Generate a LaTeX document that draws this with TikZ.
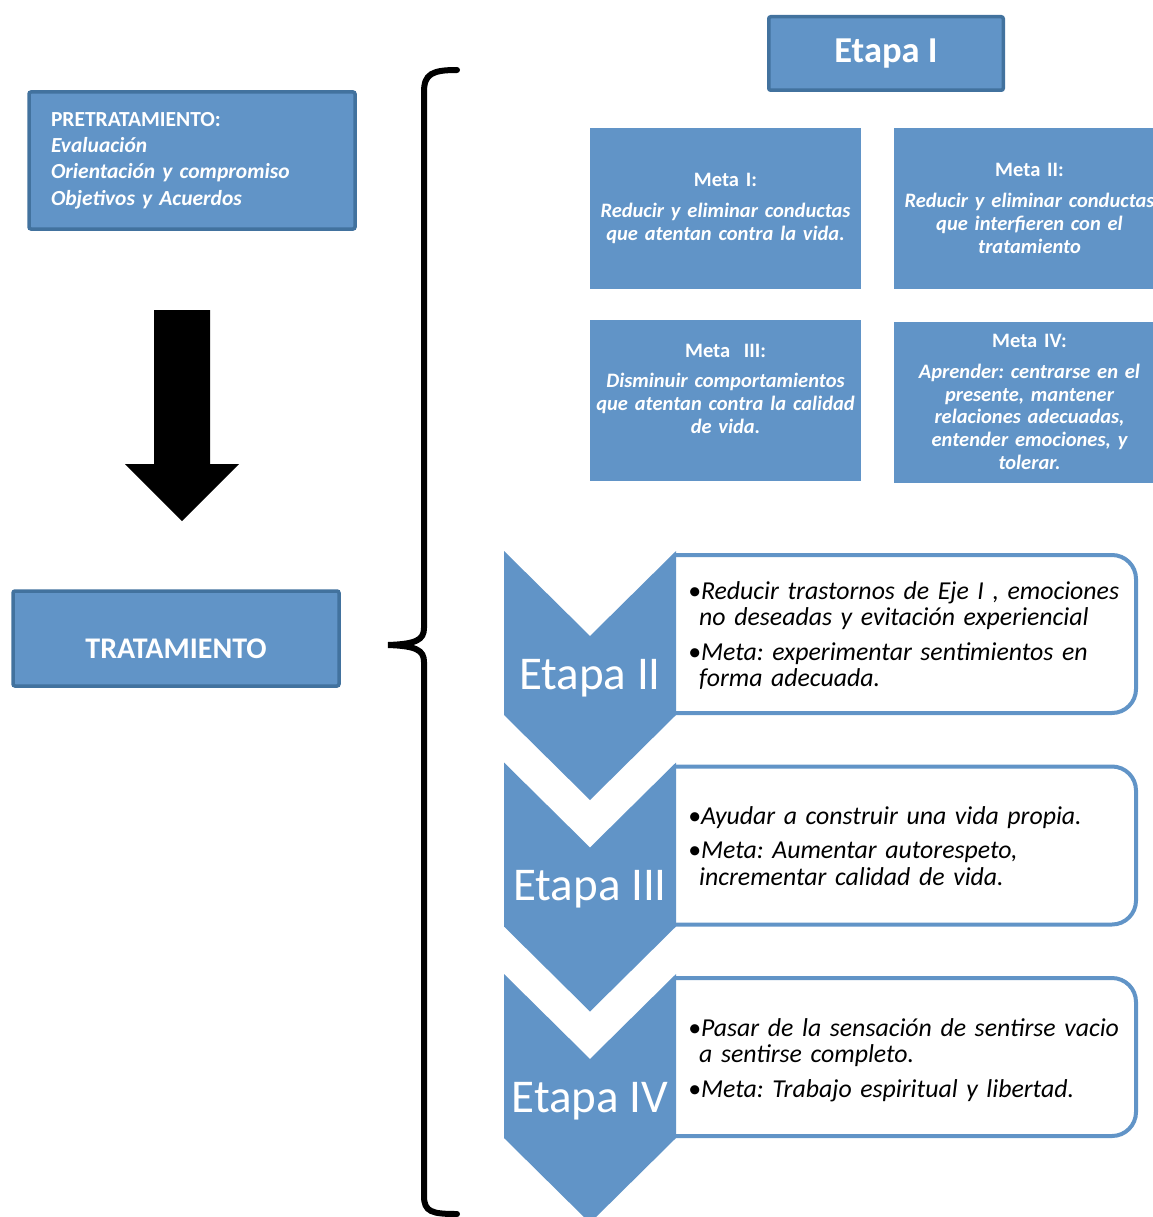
\documentclass[tikz,border=0pt]{standalone}
\usepackage{fontspec}
\setmainfont{Carlito}
\usetikzlibrary{positioning}
\definecolor{boxfill}{RGB}{97,148,199}
\definecolor{boxline}{RGB}{66,114,158}
\frenchspacing
\newcommand\stagepoint[1]{\hangindent=11pt\hangafter=1\noindent\textbullet#1\par}

\begin{document}
\begin{tikzpicture}[x=1pt, y=-1pt,
  framebox/.style={draw=boxline, line width=3.5pt, fill=boxfill, rounded corners=2pt,
                   text=white, inner sep=0pt},
  boxtitle/.style={text=white, font=\fontsize{30}{34}\selectfont\bfseries},
  metabox/.style={fill=boxfill, text=white, minimum width=271pt, minimum height=161pt,
                  inner sep=0pt, text width=270pt, align=center,
                  font=\fontsize{20.5}{22.8}\selectfont\bfseries},
  stagebox/.style={draw=boxfill, line width=4pt, fill=white, rounded corners=24pt},
  stagelabel/.style={text=white, font=\fontsize{47}{52}\selectfont},
  stagetext/.style={anchor=north west, align=left, inner sep=0pt, text width=450pt,
                    font=\fontsize{25.8}{26.5}\selectfont\itshape}
]
  \useasboundingbox (0,0) rectangle (1152,1217);

  % left column
  \node[framebox, minimum width=326pt, minimum height=137pt, text width=282pt,
        align=left, font=\fontsize{21.5}{26.3}\selectfont\bfseries] (pre) at (192,160.5)
    {PRETRATAMIENTO:\\ \itshape Evaluación\\ \itshape Orientación y compromiso\\
     \itshape Objetivos y Acuerdos};
  \node[framebox, minimum width=326pt, minimum height=95pt,
        label={[boxtitle, yshift=-10pt]center:TRATAMIENTO}] (trat) at (176,638.5) {};
  \fill[black] (154,310) -- (210,310) -- (210,464) -- (239,464) -- (182,521)
               -- (125,464) -- (154,464) -- cycle;

  % brace
  \draw[line width=6pt, line cap=round]
    (457,70) .. controls (432,70) and (424,74) .. (424,92) -- (424,628)
    .. controls (424,640) and (416,644) .. (388,645)
    .. controls (416,646) and (424,650) .. (424,662) -- (424,1196)
    .. controls (424,1212) and (432,1214) .. (457,1214);

  % etapa I and goals
  \node[framebox, minimum width=234.5pt, minimum height=73.5pt,
        font=\fontsize{36.5}{40}\selectfont\bfseries] (etapa1) at (886,53.5) {Etapa I};
  \node[metabox] (meta1) at (725.5,208.5)
    {Meta I:\\[8pt] \itshape Reducir y eliminar conductas\\ que atentan contra la vida.};
  \node[metabox] (meta2) at (1029.5,208.5)
    {Meta II:\\[8pt] \itshape Reducir y eliminar conductas\\ que interfieren con el\\ tratamiento};
  \node[metabox] (meta3) at (725.5,400)
    {Meta~~III:\\[8pt] \itshape Disminuir comportamientos\\ que atentan contra la calidad\\ de vida.\\ ~};
  \node[metabox] (meta4) at (1029.5,402)
    {Meta IV:\\[8pt] \itshape Aprender: centrarse en el\\ presente, mantener\\
     relaciones adecuadas,\\ entender emociones, y\\ tolerar.};

  % stages
  \foreach \dy/\name in {0/II, 211.5/III, 423/IV} {
    \draw[stagebox] (676,555+\dy) -- (1136,555+\dy) -- (1136,713+\dy) -- (676,713+\dy);
    \fill[boxfill] (504,551+\dy) -- (590,636+\dy) -- (676,551+\dy) -- (676,715+\dy)
                   -- (590,800+\dy) -- (504,715+\dy) -- cycle;
    \node[stagelabel] (etapa\name) at (590,678+\dy) {Etapa \name};
  }
  \node[stagetext] (txt2) at (688,581)
    {\setlength{\parskip}{8pt}%
     \stagepoint{Reducir trastornos de Eje I , emociones\newline no deseadas y evitación experiencial}
     \stagepoint{Meta: experimentar sentimientos en\newline forma adecuada.}};
  \node[stagetext] (txt3) at (688,806)
    {\setlength{\parskip}{8pt}%
     \stagepoint{Ayudar a construir una vida propia.}
     \stagepoint{Meta: Aumentar autorespeto,\newline incrementar calidad de vida.}};
  \node[stagetext] (txt4) at (688,1018)
    {\setlength{\parskip}{8pt}%
     \stagepoint{Pasar de la sensación de sentirse vacio\newline a sentirse completo.}
     \stagepoint{Meta: Trabajo espiritual y libertad.}};
\end{tikzpicture}
\end{document}
